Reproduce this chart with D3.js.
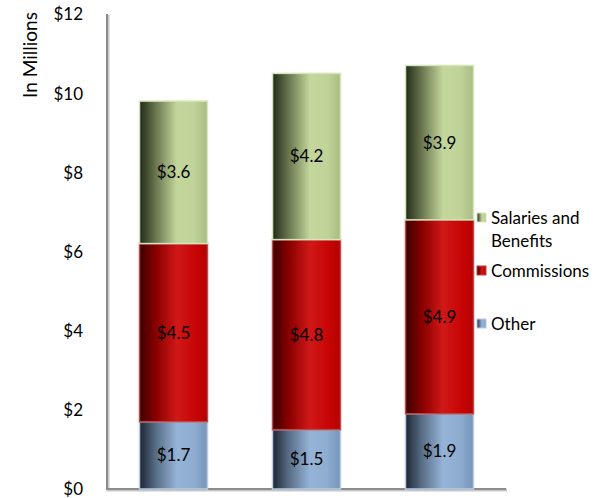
<!DOCTYPE html>
<html>
<head>
<meta charset="utf-8">
<script src="https://cdn.jsdelivr.net/npm/d3@7"></script>
<style>
  html, body { margin: 0; padding: 0; background: #fff; }
  svg { display: block; }
  text { font-family: Lato, "Open Sans", "Liberation Sans", sans-serif; fill: #000; }
</style>
</head>
<body>
<svg id="chart" width="603" height="498"></svg>
<script>
// ---- data ----
const categories = ["Period 1", "Period 2", "Period 3"];
const seriesNames = ["Other", "Commissions", "Salaries and Benefits"];
const other = [1.7, 1.5, 1.9];
const commissions = [4.5, 4.8, 4.9];
const salaries = [3.6, 4.2, 3.9];
const yTicks = [0, 2, 4, 6, 8, 10, 12];
const yTitle = "In Millions";

// ---- build table ----
const rows = categories.map((c, i) => ({
  cat: c,
  "Other": other[i],
  "Commissions": commissions[i],
  "Salaries and Benefits": salaries[i]
}));
const stack = d3.stack().keys(seriesNames)(rows);

const svg = d3.select("#chart");
const x = d3.scaleBand().domain(categories).range([107, 506]).paddingInner(0.489).paddingOuter(0.2445);
const y = d3.scaleLinear().domain([0, 12]).range([489, 14]);

// ---- gradients (cylinder look) ----
const defs = svg.append("defs");
const styles = {
  "Salaries and Benefits": { stops: [["0%", "#222a18"], ["25%", "#6d7a52"], ["55%", "#c3d69b"], ["80%", "#c0d398"], ["100%", "#a9bd82"]], stroke: "#d7e4bd" },
  "Commissions": { stops: [["0%", "#3a0000"], ["25%", "#8c0000"], ["55%", "#d01818"], ["80%", "#c80606"], ["100%", "#b80000"]], stroke: "#b84a4a" },
  "Other": { stops: [["0%", "#1c2532"], ["25%", "#5a7089"], ["55%", "#95b3d7"], ["80%", "#8fadd1"], ["100%", "#7693b8"]], stroke: "#b9cde5" }
};
const gid = k => "g_" + k.replace(/\s+/g, "_");
seriesNames.forEach(k => {
  const g = defs.append("linearGradient").attr("id", gid(k)).attr("x1", "0%").attr("x2", "100%").attr("y1", "0%").attr("y2", "0%");
  styles[k].stops.forEach(s => g.append("stop").attr("offset", s[0]).attr("stop-color", s[1]));
});

// ---- axes ----
const axisG = svg.append("g");
axisG.append("path")
  .attr("d", `M${x.range()[0] + 1},${y(12) + 1} V${y(0) + 1} H${x.range()[1] + 1}`)
  .attr("fill", "none").attr("stroke", "#c8c8c8").attr("stroke-width", 3);
axisG.append("path")
  .attr("d", `M${x.range()[0]},${y(12)} V${y(0)} H${x.range()[1]}`)
  .attr("fill", "none").attr("stroke", "#8c8c8c").attr("stroke-width", 2);

const yAxis = d3.axisLeft(y).tickValues(yTicks).tickSize(0).tickPadding(0).tickFormat(d => "$" + d);
const ya = svg.append("g").attr("transform", "translate(83,0)").call(yAxis);
ya.select(".domain").remove();
ya.selectAll("text").attr("font-family", "Lato, 'Open Sans', sans-serif").attr("font-size", 17).attr("fill", "#000").attr("dy", "0.35em");

svg.append("text")
  .attr("transform", `translate(37,55) rotate(-90)`)
  .attr("text-anchor", "middle")
  .attr("font-size", 19)
  .text(yTitle);

// ---- bars ----
const layers = svg.append("g").selectAll("g").data(stack).join("g");
layers.selectAll("rect").data(d => d.map(v => ({ key: d.key, v }))).join("rect")
  .attr("x", d => x(d.v.data.cat))
  .attr("width", x.bandwidth())
  .attr("y", d => y(d.v[1]))
  .attr("height", d => y(d.v[0]) - y(d.v[1]))
  .attr("fill", d => `url(#${gid(d.key)})`)
  .attr("stroke", d => styles[d.key].stroke)
  .attr("stroke-width", 1.5);

layers.selectAll("text").data(d => d.map(v => ({ key: d.key, v }))).join("text")
  .attr("x", d => x(d.v.data.cat) + x.bandwidth() / 2)
  .attr("y", d => (y(d.v[0]) + y(d.v[1])) / 2)
  .attr("dy", "0.35em")
  .attr("text-anchor", "middle")
  .attr("font-size", 17)
  .text(d => "$" + d3.format(".1f")(d.v.data[d.key]));

// ---- legend ----
const legendItems = [
  { key: "Salaries and Benefits", lines: ["Salaries and", "Benefits"], y: 218 },
  { key: "Commissions", lines: ["Commissions"], y: 271 },
  { key: "Other", lines: ["Other"], y: 324 }
];
const lg = svg.append("g").selectAll("g").data(legendItems).join("g");
lg.append("rect")
  .attr("x", 477).attr("y", d => d.y - 5).attr("width", 9).attr("height", 9)
  .attr("fill", d => `url(#${gid(d.key)})`)
  .attr("stroke", d => styles[d.key].stroke).attr("stroke-width", 1);
lg.each(function(d) {
  const t = d3.select(this).append("text").attr("x", 491).attr("y", d.y).attr("font-size", 17);
  d.lines.forEach((l, i) => t.append("tspan").attr("x", 491).attr("dy", i === 0 ? "0.35em" : "1.35em").text(l));
});
</script>
</body>
</html>
